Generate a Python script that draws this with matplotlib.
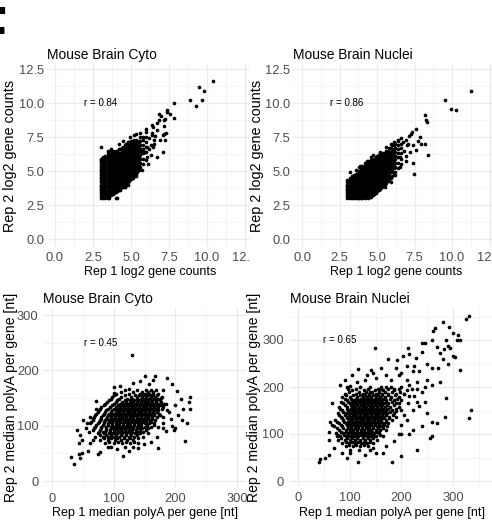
import matplotlib
matplotlib.use("Agg")
import matplotlib.pyplot as plt
from matplotlib.patches import Rectangle
from matplotlib.ticker import MultipleLocator, FormatStrFormatter

# ---------------- data ----------------
# log2 gene counts, dense part: rep1 value -> list of rep2 values
cyto_cnt_cols = {
    3.0: [3.0, 3.17, 3.32, 3.46, 3.58, 3.7, 3.81, 3.91, 4.0, 4.17, 4.32, 4.46, 4.58, 4.7, 4.81, 4.91, 5.04, 5.17, 5.32, 5.46, 5.58, 5.7, 5.81, 5.91, 6.8],
    3.17: [3.0, 3.17, 3.32, 3.46, 3.58, 3.7, 3.81, 3.91, 4.0, 4.17, 4.32, 4.46, 4.58, 4.7, 4.81, 4.91, 5.04, 5.17, 5.32, 5.46, 5.58, 5.7, 5.86, 6.0],
    3.32: [3.0, 3.17, 3.32, 3.46, 3.6, 3.8, 4.0, 4.2, 4.4, 4.6, 4.8, 5.0, 5.2, 5.4, 5.6, 5.8, 6.0, 6.1],
    3.46: [3.0, 3.17, 3.32, 3.5, 3.7, 3.9, 4.1, 4.3, 4.5, 4.7, 4.9, 5.1, 5.3, 5.5, 5.7, 5.9, 6.1, 6.3],
    3.58: [3.0, 3.17, 3.4, 3.6, 3.8, 4.0, 4.2, 4.4, 4.6, 4.8, 5.0, 5.2, 5.4, 5.6, 5.8, 6.0, 6.2],
    3.7: [3.2, 3.4, 3.6, 3.8, 4.0, 4.2, 4.4, 4.6, 4.8, 5.0, 5.2, 5.4, 5.6, 5.8, 6.0, 6.2, 6.4],
    3.8: [3.3, 3.5, 3.7, 3.9, 4.1, 4.3, 4.5, 4.7, 4.9, 5.1, 5.3, 5.5, 5.7, 5.9, 6.1, 6.3, 6.5],
    3.9: [3.4, 3.6, 3.8, 4.0, 4.2, 4.4, 4.6, 4.8, 5.0, 5.2, 5.4, 5.6, 5.8, 6.0, 6.2, 6.4],
    4.0: [3.0, 3.45, 3.6, 3.8, 4.0, 4.2, 4.4, 4.6, 4.8, 5.0, 5.2, 5.4, 5.6, 5.8, 6.0, 6.2, 6.5],
    4.1: [3.5, 3.7, 3.9, 4.1, 4.3, 4.5, 4.7, 4.9, 5.1, 5.3, 5.5, 5.7, 5.9, 6.1, 6.3, 6.5],
    4.2: [3.6, 3.75, 3.9, 4.1, 4.3, 4.5, 4.7, 4.9, 5.1, 5.3, 5.5, 5.7, 5.9, 6.1, 6.3, 6.6, 7.0],
    4.3: [3.7, 3.9, 4.1, 4.3, 4.5, 4.7, 4.9, 5.1, 5.3, 5.5, 5.7, 5.9, 6.1, 6.3, 6.6],
    4.4: [3.8, 4.0, 4.2, 4.4, 4.6, 4.8, 5.0, 5.2, 5.4, 5.6, 5.8, 6.0, 6.2, 6.4, 6.7],
    4.5: [3.8, 4.1, 4.3, 4.5, 4.7, 4.9, 5.1, 5.3, 5.5, 5.7, 5.9, 6.1, 6.3, 6.5, 6.8],
    4.6: [3.85, 4.0, 4.2, 4.4, 4.6, 4.8, 5.0, 5.2, 5.4, 5.6, 5.8, 6.0, 6.2, 6.4, 6.6, 6.9],
    4.7: [4.0, 4.3, 4.5, 4.7, 4.9, 5.1, 5.3, 5.5, 5.7, 5.9, 6.1, 6.3, 6.5, 6.7, 7.0],
    4.8: [4.2, 4.4, 4.6, 4.8, 5.0, 5.2, 5.4, 5.6, 5.8, 6.0, 6.2, 6.4, 6.6, 6.8, 7.1],
    4.9: [4.3, 4.5, 4.7, 4.9, 5.1, 5.3, 5.5, 5.7, 5.9, 6.1, 6.3, 6.5, 6.7, 6.9, 7.1],
    5.0: [4.4, 4.6, 4.8, 5.0, 5.2, 5.4, 5.6, 5.8, 6.0, 6.2, 6.4, 6.6, 6.8, 7.0, 7.2],
    5.1: [4.5, 4.8, 5.0, 5.2, 5.4, 5.6, 5.8, 6.0, 6.2, 6.4, 6.6, 6.8, 7.0, 7.2],
    5.2: [4.6, 4.9, 5.1, 5.3, 5.5, 5.7, 5.9, 6.1, 6.3, 6.5, 6.7, 6.9, 7.1, 7.3],
    5.3: [4.8, 5.1, 5.4, 5.6, 5.8, 6.0, 6.2, 6.4, 6.6, 6.8, 7.0, 7.3],
    5.4: [4.9, 5.2, 5.5, 5.7, 5.9, 6.1, 6.3, 6.5, 6.7, 6.9, 7.2],
    5.5: [5.1, 5.4, 5.8, 6.0, 6.2, 6.5, 6.8, 7.1],
    5.6: [5.3, 5.6, 5.9, 6.2, 6.4, 6.6, 6.9, 7.2, 7.5],
    5.8: [5.5, 5.9, 6.3, 6.6, 6.9, 7.3],
    6.0: [5.8, 6.4, 6.8, 7.1, 7.5, 7.9],
}
cyto_cnt_extra = [
    (10.4, 11.6), (9.5, 11.2), (9.8, 10.9), (8.9, 10.2), (9.65, 10.2), (9.25, 9.8),
    (7.8, 10.0), (7.35, 9.5), (7.4, 9.35), (7.55, 9.2), (7.8, 8.9), (6.85, 9.2),
    (7.0, 9.05), (6.85, 8.75), (7.2, 8.75), (7.25, 8.85), (6.4, 8.4), (7.2, 8.3),
    (6.7, 8.0), (7.2, 7.7), (6.35, 7.65), (6.5, 7.3), (6.3, 6.9), (7.1, 6.4),
    (6.7, 6.05), (6.03, 6.05), (6.47, 8.26), (6.7, 8.5), (5.5, 7.2), (6.03, 6.8),
    (5.8, 7.5), (5.7, 6.5), (7.24, 7.3), (7.12, 7.65), (7.28, 7.8), (6.36, 7.8),
    (6.47, 6.8), (4.6, 3.85), (4.28, 3.6), (4.06, 3.0), (5.2, 7.65), (4.93, 7.5),
    (6.2, 7.4), (6.6, 7.6), (6.9, 7.3), (5.9, 6.4), (6.2, 6.6), (6.5, 7.0),
    (4.17, 3.6), (4.8, 3.95), (5.3, 4.6), (5.7, 5.1), (6.1, 5.5), (6.3, 6.2),
    (6.0, 8.1), (5.6, 7.8), (5.3, 7.7), (3.5, 6.5), (3.7, 6.6), (4.5, 7.2),
]

nuc_cnt_cols = {
    3.0: [3.0, 3.17, 3.32, 3.46, 3.58, 3.7, 3.81, 3.91, 4.0, 4.17, 4.32],
    3.17: [3.0, 3.17, 3.32, 3.46, 3.58, 3.7, 3.81, 3.91, 4.0, 4.17, 4.32, 4.46, 4.95],
    3.32: [3.0, 3.17, 3.32, 3.46, 3.6, 3.8, 4.0, 4.2, 4.4, 4.6],
    3.46: [3.0, 3.17, 3.32, 3.5, 3.7, 3.9, 4.1, 4.3, 4.5, 4.7],
    3.58: [3.0, 3.17, 3.4, 3.6, 3.8, 4.0, 4.2, 4.4, 4.6, 4.8],
    3.7: [3.0, 3.2, 3.4, 3.6, 3.8, 4.0, 4.2, 4.4, 4.6, 4.8, 5.0],
    3.8: [3.0, 3.17, 3.4, 3.6, 3.8, 4.0, 4.2, 4.4, 4.6, 4.8, 5.0, 5.3],
    3.9: [3.0, 3.2, 3.4, 3.6, 3.8, 4.0, 4.2, 4.4, 4.6, 4.8, 5.0, 5.2],
    4.0: [3.0, 3.2, 3.4, 3.6, 3.8, 4.0, 4.2, 4.4, 4.6, 4.8, 5.0, 5.2, 5.4],
    4.1: [3.1, 3.3, 3.5, 3.7, 3.9, 4.1, 4.3, 4.5, 4.7, 4.9, 5.1, 5.3],
    4.2: [3.0, 3.2, 3.4, 3.6, 3.8, 4.0, 4.2, 4.4, 4.6, 4.8, 5.0, 5.2, 5.4, 5.6],
    4.3: [3.1, 3.3, 3.5, 3.7, 3.9, 4.1, 4.3, 4.5, 4.7, 4.9, 5.1, 5.3, 5.5],
    4.4: [3.0, 3.2, 3.4, 3.6, 3.8, 4.0, 4.2, 4.4, 4.6, 4.8, 5.0, 5.2, 5.4, 5.7],
    4.5: [3.1, 3.3, 3.5, 3.7, 3.9, 4.1, 4.3, 4.5, 4.7, 4.9, 5.1, 5.3, 5.5, 5.7],
    4.6: [3.1, 3.3, 3.5, 3.7, 3.9, 4.1, 4.3, 4.5, 4.7, 4.9, 5.1, 5.3, 5.5, 5.8, 6.0],
    4.7: [3.2, 3.4, 3.6, 3.8, 4.0, 4.2, 4.4, 4.6, 4.8, 5.0, 5.2, 5.4, 5.6, 5.8],
    4.8: [3.3, 3.5, 3.7, 3.9, 4.1, 4.3, 4.5, 4.7, 4.9, 5.1, 5.3, 5.5, 5.7, 5.9],
    4.9: [3.4, 3.6, 3.8, 4.0, 4.2, 4.4, 4.6, 4.8, 5.0, 5.2, 5.4, 5.6, 5.8, 6.0],
    5.0: [3.5, 3.7, 3.9, 4.1, 4.3, 4.5, 4.7, 4.9, 5.1, 5.3, 5.5, 5.7, 5.9, 6.1],
    5.1: [3.6, 3.8, 4.0, 4.2, 4.4, 4.6, 4.8, 5.0, 5.2, 5.4, 5.6, 5.8, 6.0, 6.2],
    5.2: [3.7, 3.9, 4.1, 4.3, 4.5, 4.7, 4.9, 5.1, 5.3, 5.5, 5.7, 5.9, 6.1, 6.3],
    5.3: [3.8, 4.0, 4.2, 4.4, 4.6, 4.8, 5.0, 5.2, 5.4, 5.6, 5.8, 6.0, 6.2],
    5.4: [3.9, 4.1, 4.3, 4.5, 4.7, 4.9, 5.1, 5.3, 5.5, 5.7, 5.9, 6.1, 6.3],
    5.5: [4.0, 4.3, 4.5, 4.7, 4.9, 5.1, 5.3, 5.5, 5.7, 5.9, 6.1, 6.3],
    5.6: [4.1, 4.4, 4.6, 4.8, 5.0, 5.2, 5.4, 5.6, 5.8, 6.0, 6.2, 6.5],
    5.7: [4.3, 4.6, 4.9, 5.1, 5.3, 5.5, 5.7, 5.9, 6.1, 6.3, 6.5],
    5.8: [4.4, 4.7, 5.0, 5.2, 5.4, 5.6, 5.8, 6.0, 6.2, 6.4, 6.7],
    5.9: [4.5, 4.9, 5.2, 5.5, 5.7, 5.9, 6.1, 6.4, 6.7],
    6.0: [4.6, 5.0, 5.3, 5.6, 5.8, 6.0, 6.2, 6.5, 6.9],
    6.1: [4.8, 5.2, 5.5, 5.8, 6.0, 6.3, 6.6, 6.9],
    6.2: [4.9, 5.3, 5.6, 5.9, 6.1, 6.4, 6.7, 7.0],
    6.4: [5.2, 5.6, 6.0, 6.3, 6.6, 6.9, 7.2],
    6.6: [5.5, 5.9, 6.3, 6.7, 7.0],
}
nuc_cnt_extra = [
    (11.24, 10.9), (9.51, 10.2), (9.91, 9.53), (10.24, 9.49), (8.2, 9.1), (8.27, 8.75),
    (8.3, 8.6), (7.58, 8.1), (7.36, 7.9), (7.87, 7.5), (7.75, 7.2), (7.42, 6.9),
    (7.58, 6.55), (7.91, 6.96), (8.2, 6.96), (8.38, 6.18), (7.38, 5.6), (7.47, 4.75),
    (6.9, 7.3), (6.75, 7.1), (6.1, 7.15), (7.1, 7.6), (7.25, 7.75), (6.8, 6.5),
    (7.0, 6.9), (6.9, 6.1), (7.2, 6.4), (6.6, 7.4), (6.95, 5.7), (6.5, 6.0),
    (4.35, 5.7), (3.87, 5.4), (4.75, 6.2), (5.2, 6.4), (5.6, 6.8), (5.9, 6.95),
    (3.6, 5.1), (6.5, 5.3), (6.2, 4.7), (5.9, 4.2), (5.5, 3.8), (7.05, 7.0), (6.4, 7.3),
]

# median polyA length, dense part: rep2 value -> list of rep1 values
cyto_pa_rows = {
    165: [118, 138, 152, 160, 168],
    161: [112, 131, 146, 155, 163],
    158: [104, 125, 142, 150, 157, 164, 172],
    155: [101, 118, 134, 141, 148, 155, 162, 170],
    152: [98, 112, 128, 138, 146, 153, 160, 167, 178],
    149: [95, 109, 122, 130, 137, 144, 151, 158, 165, 172],
    146: [92, 106, 118, 126, 133, 140, 147, 154, 161, 168, 175],
    143: [89, 103, 113, 120, 126, 132, 138, 144, 150, 156, 162, 169, 177],
    140: [86, 100, 110, 117, 123, 129, 135, 141, 147, 153, 159, 165, 172, 182],
    137: [84, 97, 107, 114, 120, 126, 132, 138, 144, 150, 156, 162, 168, 176],
    134: [80, 94, 104, 111, 117, 123, 129, 135, 141, 147, 153, 159, 165, 171, 180],
    131: [78, 91, 101, 108, 114, 120, 126, 132, 138, 144, 150, 156, 162, 168, 178],
    128: [76, 88, 98, 105, 111, 117, 123, 129, 135, 141, 147, 153, 159, 165, 171, 186],
    125: [74, 86, 96, 103, 109, 115, 121, 127, 133, 139, 145, 151, 157, 163, 170],
    122: [72, 84, 93, 100, 106, 112, 118, 124, 130, 136, 142, 148, 154, 160, 166, 174],
    119: [70, 82, 91, 98, 104, 110, 116, 122, 128, 134, 140, 146, 152, 158, 165, 175],
    116: [68, 80, 89, 96, 102, 108, 114, 120, 126, 132, 138, 144, 150, 156, 162, 170, 180],
    113: [67, 79, 88, 95, 101, 107, 113, 119, 125, 131, 137, 143, 149, 155, 162],
    110: [66, 78, 86, 93, 99, 105, 111, 117, 123, 129, 135, 141, 147, 153, 159, 167],
    107: [64, 76, 85, 92, 98, 104, 110, 116, 122, 128, 134, 140, 146, 152, 160],
    104: [62, 74, 84, 91, 97, 103, 109, 115, 121, 127, 133, 139, 145, 151, 158, 166],
    101: [72, 82, 90, 97, 103, 109, 115, 121, 127, 133, 139, 145, 154, 166],
    98: [70, 80, 88, 95, 101, 107, 113, 119, 125, 131, 137, 143, 150, 160, 172],
    95: [68, 79, 88, 96, 102, 108, 114, 120, 126, 132, 138, 146, 156],
    92: [66, 78, 87, 94, 100, 106, 112, 118, 124, 130, 136, 143, 152],
    89: [76, 86, 94, 101, 108, 115, 122, 129, 137, 148],
    86: [74, 84, 92, 99, 106, 113, 120, 127, 134, 142, 156],
    83: [77, 88, 96, 104, 112, 120, 128, 137],
    80: [70, 82, 91, 100, 109, 117, 125, 133, 148],
    77: [84, 96, 106, 116, 126, 140],
    74: [78, 90, 102, 112, 122, 132],
    71: [92, 107, 120, 133],
    68: [86, 100, 114, 126, 140],
    62: [96, 118, 132],
}
cyto_pa_extra = [
    (129, 227), (30, 43), (36, 30), (45, 42), (44, 49), (49, 51), (58, 55), (61, 68),
    (41, 92), (45, 84), (44, 69), (49, 75), (56, 104), (51, 110), (72, 145), (62, 116),
    (71, 130), (78, 53), (75, 48), (115, 46), (149, 67), (172, 60), (167, 190), (187, 187),
    (164, 183), (202, 162), (200, 95), (198, 93), (216, 73), (219, 104), (224, 152), (222, 143),
    (224, 131), (209, 148), (199, 137), (194, 175), (193, 113), (143, 181), (132, 177), (124, 166),
    (110, 172), (100, 160), (180, 165), (185, 140), (190, 125), (205, 120), (210, 110), (195, 100),
    (185, 90), (170, 80), (160, 70), (140, 60), (125, 55), (105, 58), (90, 62), (82, 88),
    (60, 88), (55, 95), (67, 75), (100, 170), (158, 175), (150, 190), (176, 150), (212, 130),
    (180, 105), (175, 120), (180, 95),
]

nuc_pa_rows = {
    200: [95, 120, 140, 160, 180, 200],
    196: [112, 135, 155, 175, 195],
    193: [105, 128, 148, 165, 185, 210],
    189: [98, 118, 131, 143, 156, 168, 182, 198],
    186: [90, 112, 125, 137, 150, 162, 175, 190, 205],
    182: [92, 107, 120, 130, 138, 146, 154, 163, 174, 188],
    179: [85, 100, 115, 126, 134, 142, 150, 158, 168, 180, 195],
    175: [90, 102, 113, 121, 128, 135, 142, 149, 156, 164, 177, 192],
    172: [95, 108, 118, 125, 132, 139, 146, 153, 160, 170, 185, 200],
    168: [84, 96, 105, 113, 120, 127, 134, 141, 148, 155, 162, 170, 182],
    165: [88, 100, 110, 117, 124, 131, 138, 145, 152, 159, 166, 175, 190],
    161: [90, 102, 107, 114, 121, 128, 135, 142, 149, 156, 163, 172, 186],
    158: [80, 94, 104, 111, 118, 125, 132, 139, 146, 153, 160, 168, 178, 195],
    154: [82, 95, 103, 109, 116, 123, 130, 137, 144, 151, 158, 165, 175, 190],
    151: [86, 98, 106, 113, 120, 127, 134, 141, 148, 155, 162, 170, 182, 200],
    147: [88, 97, 104, 111, 118, 125, 132, 139, 146, 153, 160, 168, 178],
    144: [78, 92, 101, 108, 115, 122, 129, 136, 143, 150, 157, 164, 172, 185],
    140: [80, 90, 99, 106, 113, 120, 127, 134, 141, 148, 155, 162, 171, 184],
    137: [84, 95, 103, 110, 117, 124, 131, 138, 145, 152, 159, 166, 176, 190],
    133: [86, 95, 101, 108, 115, 122, 129, 136, 143, 150, 157, 165, 176],
    130: [72, 88, 98, 105, 112, 119, 126, 133, 140, 147, 154, 161, 170, 182],
    126: [76, 89, 96, 103, 110, 117, 124, 131, 138, 145, 152, 160, 170],
    123: [80, 92, 100, 107, 114, 121, 128, 135, 142, 149, 156, 164, 175],
    119: [84, 94, 100, 107, 113, 120, 127, 134, 141, 148, 156, 166],
    116: [70, 86, 96, 103, 110, 117, 124, 131, 138, 145, 152, 160, 172],
    112: [76, 88, 96, 103, 110, 117, 124, 131, 138, 146, 154, 164],
    109: [80, 92, 100, 107, 114, 121, 128, 135, 142, 150, 158, 170],
    105: [84, 93, 100, 107, 114, 121, 128, 135, 143, 152],
    102: [74, 88, 97, 104, 111, 118, 125, 132, 139, 147, 156],
    98: [78, 89, 97, 105, 113, 121, 129, 137, 145, 158],
    95: [82, 93, 101, 109, 117, 125, 133, 141, 150, 165],
    91: [84, 95, 105, 115, 125, 135, 146],
    88: [78, 90, 100, 110, 120, 130, 140, 152],
    84: [92, 104, 116, 128, 140],
    81: [86, 98, 110, 122, 134, 146],
    77: [98, 113, 128],
    74: [92, 106, 120, 135],
    66: [100, 118, 140],
}
nuc_pa_extra = [
    (330, 351), (325, 344), (281, 339), (293, 328), (300, 314), (265, 325), (307, 300), (313, 299),
    (310, 311), (286, 300), (291, 287), (294, 282), (300, 266), (304, 263), (313, 236), (282, 280),
    (275, 272), (335, 151), (330, 133), (285, 137), (286, 176), (259, 96), (255, 92), (231, 67),
    (200, 53), (182, 40), (149, 282), (117, 41), (95, 48), (43, 46), (41, 40), (52, 48),
    (59, 55), (59, 87), (65, 119), (62, 125), (65, 167), (81, 204), (101, 202), (96, 195),
    (117, 238), (133, 226), (142, 236), (145, 230), (175, 259), (191, 257), (204, 265), (213, 284),
    (215, 270), (228, 262), (239, 294), (246, 294), (259, 301), (262, 320), (223, 233), (235, 235),
    (250, 215), (260, 205), (270, 240), (213, 165), (223, 151), (230, 169), (223, 109), (215, 100),
    (246, 169), (249, 144), (239, 116), (259, 126), (268, 123), (240, 190), (250, 250), (230, 210),
    (210, 215), (200, 230), (220, 195), (195, 225), (180, 215), (170, 225), (160, 240), (150, 220),
    (130, 215), (115, 210), (205, 185), (215, 180), (225, 180), (235, 160), (245, 200), (275, 210),
    (260, 240), (280, 260), (290, 250), (268, 285), (240, 275), (225, 245), (210, 245), (190, 240),
    (60, 105), (70, 70), (75, 95), (85, 60), (100, 60), (130, 55), (150, 60), (170, 75),
    (185, 85), (195, 100), (200, 120), (205, 140), (210, 130), (190, 150), (195, 165), (185, 195),
    (170, 200), (90, 215), (105, 225), (120, 200), (140, 190), (160, 195), (215, 205), (230, 195),
    (200, 100), (165, 60), (145, 70),
]

titles = ["Mouse Brain Cyto", "Mouse Brain Nuclei", "Mouse Brain Cyto", "Mouse Brain Nuclei"]
r_labels = ["r = 0.84", "r = 0.86", "r = 0.45", "r = 0.65"]
r_pos = [(3.0, 10.0), (3.0, 10.0), (78, 250), (80, 300)]
cnt_xlabel = "Rep 1 log2 gene counts"
cnt_ylabel = "Rep 2 log2 gene counts"
pa_xlabel = "Rep 1 median polyA per gene [nt]"
pa_ylabel = "Rep 2 median polyA per gene [nt]"

# ---------------- helpers ----------------
W, H = 492, 522
FONT = "Liberation Sans"
GREY = "#4D4D4D"


def cols_xy(cols, extra):
    xs, ys = [], []
    for x, yl in cols.items():
        xs += [x] * len(yl)
        ys += yl
    xs += [p[0] for p in extra]
    ys += [p[1] for p in extra]
    return xs, ys


def rows_xy(rows, extra):
    xs, ys = [], []
    for y, xl in rows.items():
        xs += xl
        ys += [y] * len(xl)
    xs += [p[0] for p in extra]
    ys += [p[1] for p in extra]
    return xs, ys


def panel(fig, x0, kx, xlim, y0, ky, ylim):
    # x0/y0: pixel of data 0, kx/ky: pixels per unit
    left, right = x0 + xlim[0] * kx, x0 + xlim[1] * kx
    bottom, top = y0 - ylim[0] * ky, y0 - ylim[1] * ky
    ax = fig.add_axes([left / W, 1 - bottom / H, (right - left) / W, (bottom - top) / H])
    ax.set_xlim(xlim)
    ax.set_ylim(ylim)
    ax.px = (left, right, top, bottom)
    return ax


def style(ax, major, minor, fmt, ypad):
    for s in ax.spines.values():
        s.set_visible(False)
    ax.xaxis.set_major_locator(MultipleLocator(major))
    ax.xaxis.set_minor_locator(MultipleLocator(minor))
    ax.yaxis.set_major_locator(MultipleLocator(major))
    ax.yaxis.set_minor_locator(MultipleLocator(minor))
    ax.xaxis.set_major_formatter(FormatStrFormatter(fmt))
    ax.yaxis.set_major_formatter(FormatStrFormatter(fmt))
    ax.grid(which="major", color="#EBEBEB", lw=0.9)
    ax.grid(which="minor", color="#F3F3F3", lw=0.6)
    ax.set_axisbelow(True)
    ax.tick_params(which="both", length=0)
    ax.tick_params(axis="x", pad=3.6)
    ax.tick_params(axis="y", pad=ypad)
    for lab in ax.get_xticklabels() + ax.get_yticklabels():
        lab.set_fontfamily(FONT)
        lab.set_fontsize(9.3)
        lab.set_color(GREY)


def labels(ax, title, xlabel, ylabel, ylab_px, xlab_px, ysize):
    left, right, top, bottom = ax.px
    ax.set_title(title, loc="left", pad=3.8, fontsize=9.9, family=FONT)
    ax.set_xlabel(xlabel, fontsize=9.0, family=FONT)
    ax.xaxis.set_label_coords(0.5, (bottom - xlab_px) / (bottom - top))
    ax.set_ylabel(ylabel, fontsize=ysize, family=FONT, va="center")
    ax.yaxis.set_label_coords((ylab_px - left) / (right - left), 0.5)


# ---------------- figure ----------------
fig = plt.figure(figsize=(W / 100, H / 100), dpi=100, facecolor="white")

ax1 = panel(fig, 55, 15.2, (-0.55, 13.1), 239, 13.6, (-0.6, 12.85))
ax2 = panel(fig, 302, 15.0, (-0.6, 13.125), 239, 13.6, (-0.6, 12.85))
ax3 = panel(fig, 52, 0.617, (-15, 315), 481, 0.553, (-12, 313))
ax4 = panel(fig, 298, 0.517, (-16, 380), 481, 0.47, (-13, 368))
ax2.set_zorder(2)
ax4.set_zorder(2)

# the right-hand plots sit on a white sheet that hides the edge of the left ones
fig.add_artist(Rectangle((250 / W, 0), 1, 1, transform=fig.transFigure,
                         facecolor="white", edgecolor="none", zorder=1))

sets = [cols_xy(cyto_cnt_cols, cyto_cnt_extra), cols_xy(nuc_cnt_cols, nuc_cnt_extra),
        rows_xy(cyto_pa_rows, cyto_pa_extra), rows_xy(nuc_pa_rows, nuc_pa_extra)]

for i, ax in enumerate([ax1, ax2, ax3, ax4]):
    xs, ys = sets[i]
    ax.scatter(xs, ys, s=7.0, c="black", linewidths=0, zorder=3)
    ax.text(r_pos[i][0], r_pos[i][1], r_labels[i], ha="center", va="center",
            fontsize=7.0, family=FONT, color="black")

style(ax1, 2.5, 1.25, "%.1f", 1.9)
style(ax2, 2.5, 1.25, "%.1f", 1.9)
style(ax3, 100, 50, "%d", 3.0)
style(ax4, 100, 50, "%d", 4.0)

labels(ax1, titles[0], cnt_xlabel, cnt_ylabel, 10, 266, 10.4)
labels(ax2, titles[1], cnt_xlabel, cnt_ylabel, 257.5, 266, 10.4)
labels(ax3, titles[2], pa_xlabel, pa_ylabel, 11, 507, 10.1)
labels(ax4, titles[3], pa_xlabel, pa_ylabel, 254, 507, 10.1)

# panel letter, mostly cut off at the left edge
fig.text(-30 / W, 1 - 5 / H, "F", fontsize=44, fontweight="bold", family=FONT,
         ha="left", va="top")

fig.savefig("out.png", dpi=100, facecolor="white")
